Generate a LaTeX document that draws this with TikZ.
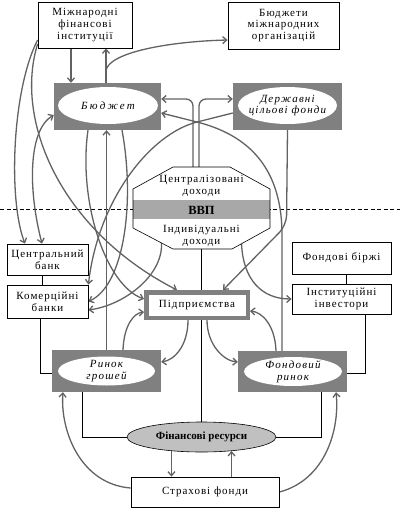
\documentclass[tikz,border=0pt]{standalone}
\usepackage{fontspec}
\setmainfont{Liberation Serif}
\newfontfamily\rmsp[LetterSpace=9]{Liberation Serif}
\newfontfamily\spit[LetterSpace=11]{Liberation Serif}
\usetikzlibrary{arrows.meta,shapes.geometric,calc}
\pgfdeclarelayer{bg}
\pgfsetlayers{bg,main}
\definecolor{lgray}{HTML}{626262}
\definecolor{boxgray}{HTML}{808080}
\definecolor{resgray}{HTML}{C0C0C0}
\definecolor{bandgray}{HTML}{A8A8A8}
\begin{document}
\begin{tikzpicture}[x=1pt,y=-1pt,
  box/.style={draw, line width=0.8pt, fill=white, align=center, inner sep=0pt, font=\rmsp\fontsize{11}{11.8}\selectfont},
  graybox/.style={fill=boxgray, inner sep=0pt},
  oval/.style={ellipse, fill=white, inner sep=0pt},
  ovaltext/.style={align=center, inner sep=0pt, font=\spit\itshape\fontsize{11}{11.8}\selectfont},
  txt/.style={align=center, inner sep=0pt, font=\rmsp\fontsize{11}{12.5}\selectfont},
  conn/.style={draw=lgray, line width=1.3pt, -{Straight Barb[length=4pt,width=7pt]}},
  thinline/.style={draw=black, line width=0.6pt}]
\useasboundingbox (0,0) rectangle (400,509);

% nodes
\node[box, minimum width=94pt, minimum height=46pt] (mfi) at (85,25) {Міжнародні\\фінансові\\інституції};
\node[box, minimum width=111pt, minimum height=47pt] (bmo) at (283.5,25.5) {Бюджети\\міжнародних\\організацій};
\node[graybox, minimum width=107pt, minimum height=47pt] (budget) at (107.5,106.5) {};
\node[oval, minimum width=100pt, minimum height=37pt] (budgetE) at (108,105.5) {};
\node[ovaltext] (budgetT) at (108,105.5) {\addfontfeatures{LetterSpace=20}Бюджет};
\node[graybox, minimum width=109pt, minimum height=47pt] (dcf) at (287.5,106.5) {};
\node[oval, minimum width=99pt, minimum height=37pt] (dcfE) at (287.5,105.5) {};
\node[ovaltext] (dcfT) at (287.5,105.5) {Державні\\цільові фонди};

\node[minimum width=137pt, minimum height=82pt, inner sep=0pt] (gdp) at (201.5,208) {};
\begin{scope}[shift={(gdp.center)}]
  \fill[white] (-28.5,-41) -- (28.5,-41) -- (68.5,-19) -- (68.5,20) -- (30.5,41) -- (-28.5,41) -- (-68.5,20) -- (-68.5,-19) -- cycle;
  \fill[bandgray] (-68.5,-8) rectangle (68.5,11);
  \draw[line width=0.6pt] (-28.5,-41) -- (28.5,-41) -- (68.5,-19) -- (68.5,20) -- (30.5,41) -- (-28.5,41) -- (-68.5,20) -- (-68.5,-19) -- cycle;
\end{scope}
\node[txt] (cent) at (201.5,186) {Централізовані\\доходи};
\node[inner sep=0pt, font=\bfseries\fontsize{12.5}{12.5}\selectfont] (vvp) at (201.5,210) {ВВП};
\node[txt] (indiv) at (201.5,236) {Індивідуальні\\доходи};

\node[box, minimum width=81pt, minimum height=31pt] (cb) at (47.5,259.5) {Центральний\\банк};
\node[box, minimum width=81pt, minimum height=33pt] (kb) at (47.5,301.5) {Комерційні\\банки};
\node[box, minimum width=99pt, minimum height=32pt] (fb) at (341.5,258) {Фондові біржі};
\node[box, minimum width=99pt, minimum height=30pt] (ii) at (341.5,299) {Інституційні\\інвестори};
\node[box, draw=boxgray, line width=4.5pt, minimum width=101.5pt, minimum height=25.5pt] (pidpr) at (197,305) {Підприємства};

\node[graybox, minimum width=109pt, minimum height=42pt] (rg) at (106.5,371) {};
\node[oval, minimum width=97pt, minimum height=29pt] (rgE) at (106.5,371) {};
\node[ovaltext] (rgT) at (106.5,371) {Ринок\\грошей};
\node[graybox, minimum width=109pt, minimum height=41pt] (fr) at (292.5,371.5) {};
\node[oval, minimum width=98pt, minimum height=29pt] (frE) at (293,371.5) {};
\node[ovaltext] (frT) at (293,371.5) {Фондовий\\ринок};

\node[ellipse, draw, fill=resgray, line width=0.6pt, minimum width=149pt, minimum height=30pt, inner sep=0pt, font=\bfseries\fontsize{11}{11.8}\selectfont] (finres) at (201.5,437) {Фінансові ресурси};
\node[box, minimum width=148pt, minimum height=30pt] (sf) at (205,492) {Страхові фонди};

% connectors
\begin{pgfonlayer}{bg}
\draw[dashed, line width=0.6pt, dash pattern=on 4pt off 2.5pt] (0,209) -- (400,209);

\coordinate (a1) at ($(mfi.south)+(-14,0)$);
\draw[conn] (a1) -- (a1 |- budget.north);
\coordinate (b1) at ($(budget.north)+(-1.5,0)$);
\draw[conn] (b1) -- (b1 |- mfi.south);
\draw[conn] (b1) -- ($(b1)+(0,-12)$) .. controls ($(b1)+(2,-30)$) and ($(bmo.west)+(-60,16)$) .. ($(bmo.west)+(0,14.5)$);

% left side
\draw[conn] ($(mfi.west)+(0,15)$) .. controls (12,90) and (8,200) .. ($(cb.north)+(-22.5,0)$);
\draw[conn] ($(mfi.west)+(0,19)$) .. controls (14,120) and (60,230) .. ($(pidpr.north)+(-20,0)$);
\draw[conn, {Straight Barb[length=4pt,width=7pt]}-{Straight Barb[length=4pt,width=7pt]}] ($(cb.north)+(-5.5,0)$) .. controls (28,190) and (28,130) .. ($(budget.west)+(0,8.5)$);

% budget bottom
\draw[conn] ($(budget.south)+(-19.5,0)$) .. controls (78,200) and (105,285) .. ($(pidpr.west)+(0,-6)$);
\draw[conn] ($(budget.south)+(14.5,0)$) .. controls (135,200) and (125,285) .. (kb.east);
\draw[conn] (rg.north) -- (rg.north |- budget.south);

% DCF -> commercial banks
\draw[conn] ($(dcf.west)+(0,6.5)$) -- (197,122) .. controls (150,134) and (98,200) .. (kb.north east);
% stock market -> budget
\draw[conn] ($(fr.north)+(-10.5,0)$) -- (282,235) .. controls (282,160) and (240,133) .. (197,122) -- ($(budget.east)+(0,6.5)$);
% GDP top
\draw[conn, rounded corners=7pt] ($(gdp.north)+(-8.5,0)$) |- ($(budget.east)+(0,-7.5)$);
\draw[conn, rounded corners=7pt] ($(gdp.north)+(-2.5,0)$) |- ($(dcf.west)+(0,-7.5)$);
% DCF -> enterprises
\draw[conn, rounded corners=10pt] (dcf.south) -- ($(dcf.south)+(-1,95)$) -- ($(pidpr.north)+(26,0)$);
% GDP bottom
\draw[conn] ($(gdp.south)+(-40,-6)$) .. controls (163,275) and (125,305) .. ($(kb.east)+(0,8.5)$);
\draw[conn] ($(gdp.south)+(40,-6)$) .. controls (243,280) and (262,299) .. (ii.west);

% markets
\draw[conn] ($(rg.north)+(16.5,0)$) .. controls (124,325) and (134,313) .. ($(pidpr.west)+(0,7)$);
\draw[conn] ($(pidpr.south)+(-9,0)$) .. controls (188,345) and (175,360) .. ($(rg.east)+(0,-9)$);
\draw[conn] ($(pidpr.south)+(10,0)$) .. controls (207,345) and (224,361) .. ($(fr.west)+(0,-9.5)$);
\draw[conn] ($(fr.north)+(-16.5,0)$) .. controls (275,325) and (262,312) .. ($(pidpr.east)+(0,6)$);

% thin lines
\draw[thinline] ($(kb.south)+(-7.5,0)$) |- ($(rg.west)+(0,2)$);
\draw[thinline] ($(ii.south)+(23.5,0)$) |- ($(fr.east)+(0,1.5)$);
\draw[thinline] ($(rg.south)+(-24.5,0)$) |- (finres.west);
\draw[thinline] ($(fr.south)+(28.5,0)$) |- (finres.east);
\draw[thinline] (gdp.south) -- (gdp.south |- pidpr.north);
\draw[thinline] (gdp.south |- pidpr.south) -- (gdp.south |- finres.north);
\draw[thinline] ($(cb.south)+(-5,0)$) -- ($(kb.north)+(-5,0)$);
\draw[thinline] ($(fb.south)+(4.5,0)$) -- ($(ii.north)+(4.5,0)$);

% insurance
\draw[conn] (finres.205) -- (finres.205 |- sf.north);
\draw[conn] (finres.335 |- sf.north) -- (finres.335);
\draw[conn] ($(sf.west)+(0,-4)$) .. controls (80,484) and (60,430) .. ($(rg.south)+(-43.5,0)$);
\draw[conn] (sf.east) .. controls (325,480) and (340,430) .. ($(fr.south)+(43.5,0)$);
\end{pgfonlayer}
\end{tikzpicture}
\end{document}
